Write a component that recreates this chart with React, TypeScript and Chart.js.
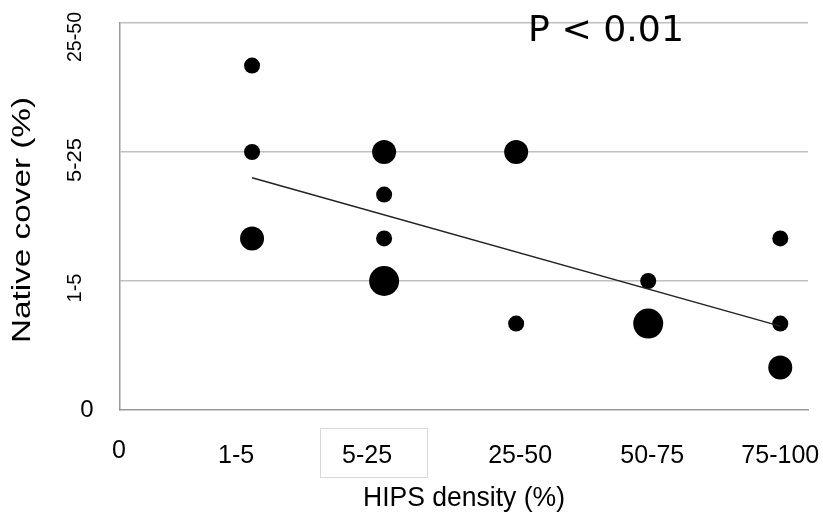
import React, { useEffect, useRef } from "react";
import { Chart, registerables } from "chart.js";

Chart.register(...registerables);

// ---- data ----
const xCategories = ["0", "1-5", "5-25", "25-50", "50-75", "75-100"];
const yCategories = ["0", "1-5", "5-25", "25-50"];
const pointX = [1, 1, 1, 2, 2, 2, 2, 3, 3, 4, 4, 5, 5, 5];
const pointY = [2.67, 2, 1.33, 2, 1.67, 1.33, 1, 2, 0.67, 1, 0.67, 1.33, 0.67, 0.33];
const pointCount = [1, 1, 2, 2, 1, 1, 3, 2, 1, 1, 3, 1, 1, 2];
const trendX = [1, 5];
const trendY = [1.8, 0.65];
const pLabel = "P < 0.01";
const xTitle = "HIPS density (%)";
const yTitle = "Native cover (%)";

// ---- styles ----
const countRadius: Record<number, number> = { 1: 8, 2: 12, 3: 15 };
const xLabelShift = [-1, -16, -17, 4, 4, 0];
const yLabelShift = [0, 7, 8, 14];
const yLabelLength = [0, 29, 44, 50];
const FONT = '"Liberation Sans", Arial, sans-serif';

function drawFit(
  ctx: CanvasRenderingContext2D,
  text: string,
  cx: number,
  cy: number,
  size: number,
  length: number | null,
  rotate: boolean,
  family = FONT
) {
  ctx.save();
  ctx.font = `${size}px ${family}`;
  ctx.fillStyle = "#000";
  ctx.textAlign = "center";
  ctx.textBaseline = "middle";
  ctx.translate(cx, cy);
  if (rotate) ctx.rotate(-Math.PI / 2);
  if (length) {
    const w = ctx.measureText(text).width;
    ctx.scale(length / w, 1);
  }
  ctx.fillText(text, 0, 0);
  ctx.restore();
}

const textPlugin = {
  id: "textPlugin",
  afterDraw(chart: any) {
    const ctx: CanvasRenderingContext2D = chart.ctx;
    const xs = chart.scales.x;
    const ys = chart.scales.y;
    // x tick labels
    ctx.save();
    ctx.fillStyle = "#000";
    ctx.textAlign = "center";
    ctx.textBaseline = "alphabetic";
    xCategories.forEach((lab, i) => {
      const px = xs.getPixelForValue(i) + xLabelShift[i];
      const base = i === 0 ? 458 : 463;
      ctx.font = `25px ${FONT}`;
      ctx.fillText(lab, px, base);
      if (i === 2) {
        ctx.strokeStyle = "#d9d9d9";
        ctx.lineWidth = 1;
        ctx.strokeRect(Math.round(px - 47) + 0.5, 428.5, 107, 49);
      }
    });
    ctx.restore();
    // y tick labels
    yCategories.forEach((lab, i) => {
      const py = ys.getPixelForValue(i) + yLabelShift[i];
      if (i === 0) {
        drawFit(ctx, lab, 87, py, 24, null, false);
      } else {
        drawFit(ctx, lab, 75, py, 21, yLabelLength[i], true);
      }
    });
    // axis titles
    drawFit(ctx, xTitle, 464, 499, 27, 202, false);
    drawFit(ctx, yTitle, 23, 220, 26, 246, true);
    // P value
    ctx.save();
    ctx.font = `36px "DejaVu Sans", sans-serif`;
    ctx.fillStyle = "#000";
    ctx.textAlign = "left";
    ctx.textBaseline = "alphabetic";
    const w = ctx.measureText(pLabel).width;
    ctx.translate(528, 41);
    ctx.scale(156 / w, 1);
    ctx.fillText(pLabel, 0, 0);
    ctx.restore();
  },
};

export default function App() {
  const ref = useRef<HTMLCanvasElement>(null);
  useEffect(() => {
    if (!ref.current) return;
    const bubbles = pointX.map((x, i) => ({ x, y: pointY[i], r: countRadius[pointCount[i]] }));
    const trend = trendX.map((x, i) => ({ x, y: trendY[i] }));
    const chart = new Chart(ref.current, {
      type: "bubble",
      data: {
        datasets: [
          {
            type: "line",
            data: trend,
            borderColor: "#222",
            borderWidth: 1.5,
            pointRadius: 0,
            fill: false,
          } as any,
          {
            type: "bubble",
            data: bubbles,
            backgroundColor: "#000",
            borderWidth: 0,
            hoverRadius: 0,
          } as any,
        ],
      },
      options: {
        responsive: false,
        animation: false,
        events: [],
        layout: { padding: { left: 120, right: 15, top: 23, bottom: 106 }, autoPadding: false },
        plugins: { legend: { display: false }, tooltip: { enabled: false } },
        scales: {
          x: {
            type: "linear",
            min: 0,
            max: 5.21,
            ticks: { display: false },
            grid: { display: false, drawTicks: false },
            border: { display: true, color: "#999", width: 1.5 },
          },
          y: {
            type: "linear",
            min: 0,
            max: 3,
            ticks: { display: false, stepSize: 1 },
            grid: {
              drawTicks: false,
              color: (c: any) => (c.tick && c.tick.value === 0 ? "rgba(0,0,0,0)" : "#c0c0c0"),
              lineWidth: 1.5,
            },
            border: { display: true, color: "#999", width: 1.5 },
          },
        },
      },
      plugins: [textPlugin],
    });
    return () => chart.destroy();
  }, []);
  return (
    <div style={{ position: "absolute", left: 0, top: 0, width: 823, height: 516, background: "#fff" }}>
      <canvas ref={ref} width={823} height={516} style={{ width: 823, height: 516 }} />
    </div>
  );
}
